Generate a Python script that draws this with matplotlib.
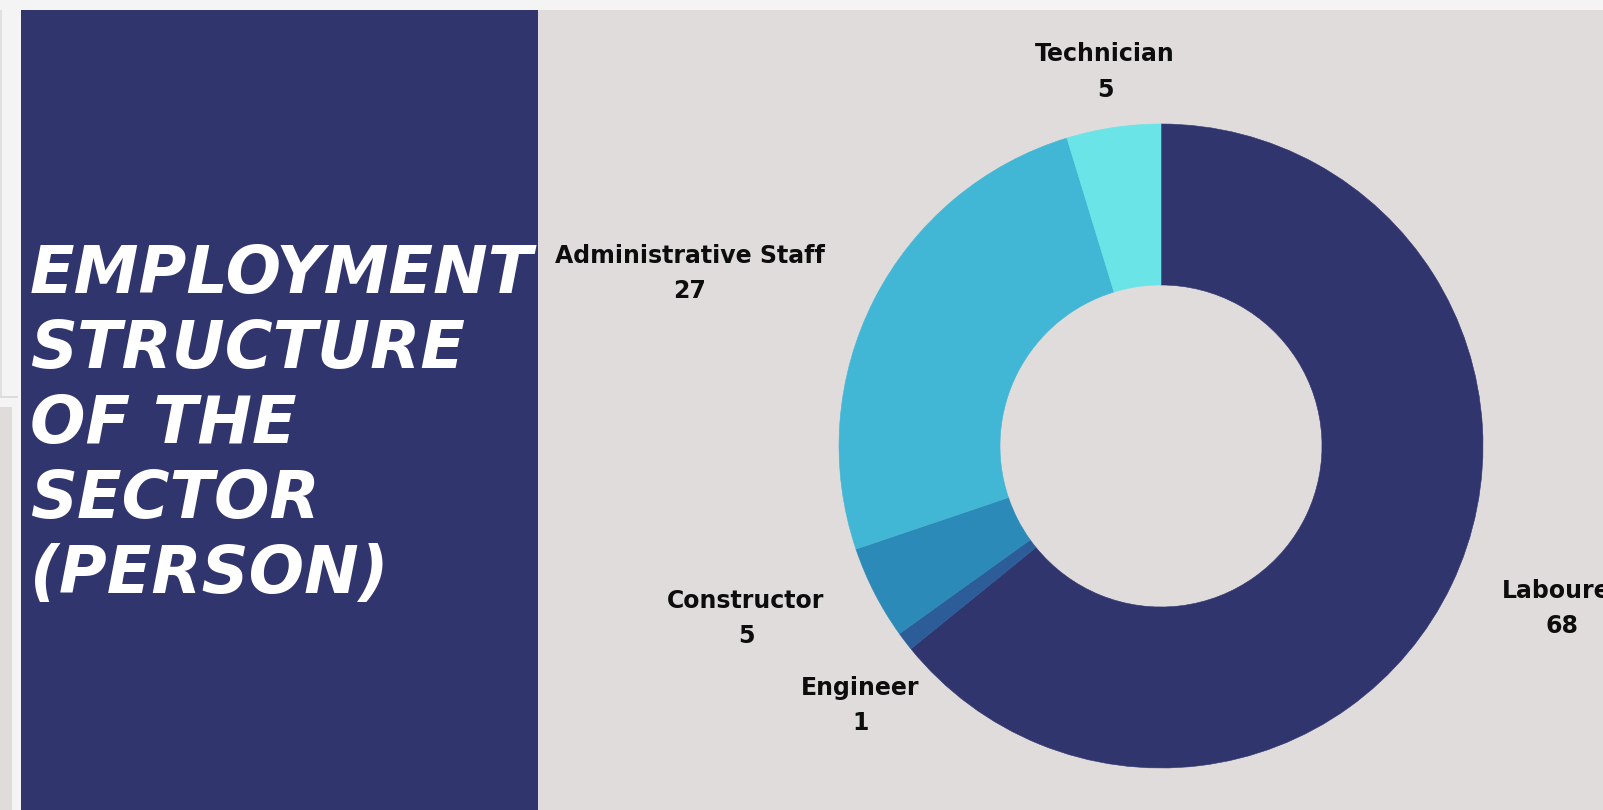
import numpy as np
import matplotlib
matplotlib.use("Agg")
import matplotlib.pyplot as plt
from matplotlib.patches import Rectangle

# ---------------- data ----------------
categories = ["Labourer", "Engineer", "Constructor", "Administrative Staff", "Technician"]
values = [68, 1, 5, 27, 5]
colors = ["#31356e", "#2d5d98", "#2c8ab8", "#42b6d5", "#6be4e8"]
title_lines = ["EMPLOYMENT", "STRUCTURE", "OF THE", "SECTOR", "(PERSON)"]

# label placement style (pixel nudges / alignment overrides)
label_ha_override = {"Engineer": "center"}
label_dy_px = {"Engineer": 30}

W, H = 1603, 810
DPI = 100
fig = plt.figure(figsize=(W / DPI, H / DPI), dpi=DPI)
fig.patch.set_facecolor("#f4f4f4")

# background axes in pixel coordinates
bg = fig.add_axes([0, 0, 1, 1])
bg.set_xlim(0, W)
bg.set_ylim(H, 0)
bg.axis("off")

PINK = "#e0dcdc"
NAVY = "#31356e"
bg.add_patch(Rectangle((538, 10), W - 538, H - 10, facecolor=PINK, edgecolor="none"))
bg.add_patch(Rectangle((20.5, 10), 538 - 20.5, H - 10, facecolor=NAVY, edgecolor="none"))
bg.add_patch(Rectangle((0, 407), 12, H - 407, facecolor=PINK, edgecolor="none"))
bg.add_patch(Rectangle((0, 10), 2, 387, facecolor="#e2dfdf", edgecolor="none"))
bg.add_patch(Rectangle((0, 396), 18, 2, facecolor="#dedbdb", edgecolor="none"))

# title
base_y = 293
line_gap = 75
for i, line in enumerate(title_lines):
    bg.text(30, base_y + i * line_gap, line, color="white", fontsize=47,
            fontweight="bold", fontstyle="italic", family="DejaVu Sans",
            ha="left", va="baseline")

# donut
cx, cy, R = 1161, 446, 322
ax = fig.add_axes([(cx - R) / W, (H - cy - R) / H, 2 * R / W, 2 * R / H])
wedges, _ = ax.pie(values, colors=colors, startangle=90, counterclock=False,
                   radius=1.0, wedgeprops=dict(width=0.5, linewidth=0.4))
for w, c in zip(wedges, colors):
    w.set_edgecolor(c)
ax.set_xlim(-1, 1)
ax.set_ylim(-1, 1)
ax.set_aspect("equal")
ax.axis("off")

lab_r = 378 / R
for w, cat, val in zip(wedges, categories, values):
    mid = np.deg2rad((w.theta1 + w.theta2) / 2)
    x = lab_r * np.cos(mid)
    y = lab_r * np.sin(mid)
    if abs(np.cos(mid)) < 0.3:
        ha = "center"
    elif np.cos(mid) > 0:
        ha = "left"
    else:
        ha = "right"
    ha = label_ha_override.get(cat, ha)
    y -= label_dy_px.get(cat, 0) / R
    ax.text(x, y, f"{cat}\n{val}", ha=ha, va="center", multialignment="center",
            fontsize=17, fontweight="bold", family="DejaVu Sans",
            color="#0d0d0d", linespacing=1.6, clip_on=False)

fig.savefig("out.png", dpi=DPI, facecolor=fig.get_facecolor())
